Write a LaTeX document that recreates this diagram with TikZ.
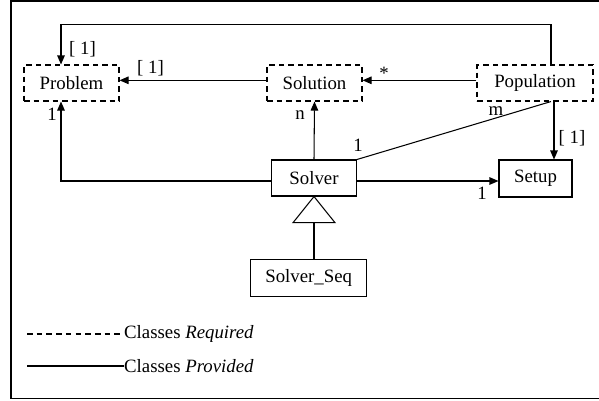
\documentclass[tikz,border=0pt]{standalone}
\usepackage{fontspec}
\setmainfont{Liberation Serif}
\usetikzlibrary{arrows.meta}
\begin{document}
\begin{tikzpicture}[x=1pt,y=-1pt,
  font=\fontsize{18.8}{22}\selectfont,
  every node/.style={inner sep=0pt},
  req/.style={draw,dash pattern=on 5.5pt off 4pt,line width=1.05pt,minimum height=36pt},
  prov/.style={draw,line width=1.05pt,minimum height=36pt},
  arr/.style={line width=1.05pt,-{Triangle[length=9pt,width=7.5pt]}},
  ln/.style={line width=1.05pt},
  lbl/.style={inner sep=0pt}]
\useasboundingbox (0,0) rectangle (599,400);
\draw[line width=1.05pt] (602,1) -- (11,1) -- (11,398.5) -- (602,398.5);

\node[req,minimum width=95pt] (Problem) at (71.5,83) {Problem};
\node[req,minimum width=95pt] (Solution) at (314.5,83) {Solution};
\node[req,minimum width=116pt] (Population) at (535,83) {Population};
\node[prov,minimum width=85pt] (Solver) at (314,178) {Solver};
\node[prov,minimum width=73pt,minimum height=37pt] (Setup) at (535.5,178.5) {Setup};
\node[prov,minimum width=116pt,minimum height=37pt] (SolverSeq) at (308.7,278.3) {Solver\_Seq};

% top route Population -> Problem
\coordinate (t1) at (551,24.3);
\coordinate (t2) at (61,24.3);
\draw[arr] (Population.north -| t1) -- (t1) -- (t2) -- (t2 |- Problem.north);
\node[lbl,anchor=west] (l1) at (69,49) {[ 1]};

% Solution -> Problem
\draw[arr] ([yshift=2.7pt]Solution.west) -- ([yshift=2.7pt]Problem.east);
\node[lbl] (l2) at (150.5,68) {[ 1]};

% Population -> Solution
\draw[arr] ([yshift=2.7pt]Population.west) -- ([yshift=2.7pt]Solution.east);
\node[lbl] (l3) at (384,73) {*};

% Solver -> Solution
\draw[arr] (Solver.north) -- (Solution.south);
\node[lbl] (l4) at (300,115) {n};

% Solver -> Problem
\coordinate (p1) at (61,181);
\draw[arr] ([yshift=-3pt]Solver.west) -- (p1) -- (p1 |- Problem.south);
\node[lbl] (l5) at (52,114) {1};

% Solver -> Setup
\draw[arr] ([yshift=-3pt]Solver.east) -- (Setup.west |- p1);
\node[lbl] (l6) at (482,193) {1};

% Population -- Solver
\draw[ln] (Population.south -| t1) -- (Solver.north east);
\node[lbl] (l7) at (358,145) {1};
\node[lbl] (l8) at (496,111) {m};

% Population -> Setup
\coordinate (s1) at (554,101);
\draw[arr] (Population.south -| s1) -- (Setup.north -| s1);
\node[lbl] (l9) at (572,138) {[ 1]};

% inheritance
\coordinate (tb) at (314,222.7);
\draw[ln,line join=miter] (Solver.south) -- (293,222.7) -- (335,222.7) -- cycle;
\draw[ln] (tb) -- (tb |- SolverSeq.north);

% legend
\coordinate (d1) at (27,334);
\coordinate (d2) at (120,334);
\draw[ln,dash pattern=on 5.6pt off 4.1pt] (d1) -- (d2);
\node[lbl,anchor=west] (leg1) at (124,334) {Classes \textit{Required}};
\coordinate (e1) at (27,366);
\coordinate (e2) at (124,366);
\draw[ln] (e1) -- (e2);
\node[lbl,anchor=west] (leg2) at (124,366) {Classes \textit{Provided}};
\end{tikzpicture}
\end{document}
